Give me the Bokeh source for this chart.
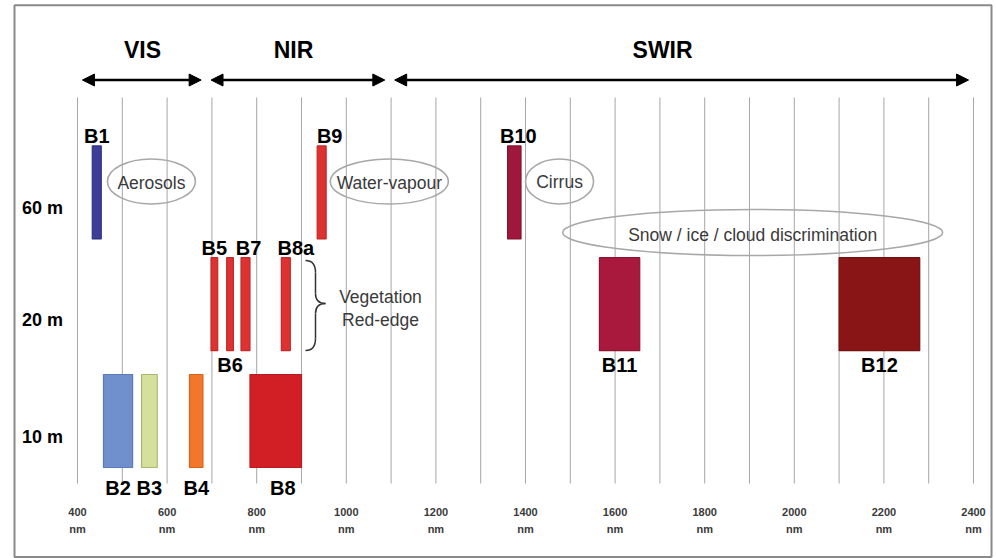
from bokeh.plotting import figure
from bokeh.models import Range1d, Arrow, NormalHead, ColumnDataSource
from bokeh.core.properties import value
from bokeh.embed import file_html
from bokeh.resources import INLINE

# ---------------- data ----------------
band_names = ["B1", "B2", "B3", "B4", "B5", "B6", "B7", "B8", "B8a", "B9", "B10", "B11", "B12"]
band_start = [433, 458, 543, 650, 698, 733, 765, 785, 855, 935, 1360, 1565, 2100]
band_end = [453, 523, 578, 680, 713, 748, 785, 900, 875, 955, 1390, 1655, 2280]
band_res = [60, 10, 10, 10, 20, 20, 20, 10, 20, 60, 60, 20, 20]

res_values = [10, 20, 60]
res_labels = ["10 m", "20 m", "60 m"]

tick_values = [400, 600, 800, 1000, 1200, 1400, 1600, 1800, 2000, 2200, 2400]
grid_values = [400, 500, 600, 700, 800, 900, 1000, 1100, 1200, 1300, 1400,
               1500, 1600, 1700, 1800, 1900, 2000, 2100, 2200, 2300, 2400]

region_names = ["VIS", "NIR", "SWIR"]
region_bounds = [400, 687, 1097, 2400]
region_label_x = [545, 882, 1706]

note_texts = ["Aerosols", "Water-vapour", "Cirrus", "Snow / ice / cloud discrimination"]
note_x = [565, 1096, 1476, 1907]

# ---------------- styles / layout ----------------
band_fill = ["#3c3f98", "#6f90cc", "#d4e09b", "#f2772b", "#dd3232", "#dd3232", "#dd3232",
             "#d21f26", "#dd3232", "#dd3232", "#a0173c", "#a8193d", "#8a1516"]
band_line = ["#2e3180", "#5a7bb8", "#a9b86e", "#d8611b", "#c42828", "#c42828", "#c42828",
             "#b81b21", "#c42828", "#c42828", "#85122f", "#8e1432", "#731010"]
label_above = ["B1", "B5", "B7", "B8a", "B9", "B10"]
label_dx_px = {"B7": 3, "B8": 7, "B8a": 10, "B9": 8, "B10": 4}

PXN = 0.448      # pixels per nm
PXY = 114.5      # pixels per row unit
HALF = 0.406     # half bar height in row units
row_of = {10: 0.0, 20: 1.02, 60: 1.996}

FONT = value("Liberation Sans")

p = figure(width=996, height=558,
           x_range=Range1d(228.13, 2451.34), y_range=Range1d(-1.2009, 3.6725),
           output_backend="svg", toolbar_location=None,
           x_axis_location=None, y_axis_location=None,
           min_border=0, outline_line_color=None,
           background_fill_color="white", border_fill_color="white")
p.grid.visible = False

# outer frame
p.quad(left=[259.4], right=[2440.2], bottom=[-1.188], top=[3.632],
       fill_color=None, line_color="#8a8a8a", line_width=2)

# vertical grid lines
p.segment(x0=grid_values, x1=grid_values,
          y0=[2.825] * len(grid_values), y1=[-0.546] * len(grid_values),
          line_color="#a6a6a6", line_width=1)

# tick labels
p.text(x=tick_values, y=[-0.799] * len(tick_values), text=[str(v) for v in tick_values],
       text_font=FONT, text_font_style="bold", text_font_size="11px",
       text_color="#3a3a3a", text_align="center", text_baseline="middle")
p.text(x=tick_values, y=[-0.939] * len(tick_values), text=["nm"] * len(tick_values),
       text_font=FONT, text_font_style="bold", text_font_size="11px",
       text_color="#3a3a3a", text_align="center", text_baseline="middle")

# region arrows
arrow_y = 2.978
inset = 11
for i in range(len(region_names)):
    p.add_layout(Arrow(x_start=region_bounds[i] + inset, y_start=arrow_y,
                       x_end=region_bounds[i + 1] - inset, y_end=arrow_y,
                       line_width=2.5, line_color="black",
                       start=NormalHead(size=12, fill_color="black", line_color="black"),
                       end=NormalHead(size=12, fill_color="black", line_color="black")))
p.text(x=region_label_x, y=[3.24] * 3, text=region_names,
       text_font=FONT, text_font_style="bold", text_font_size="23px",
       text_color="black", text_align="center", text_baseline="middle")

# resolution labels
p.text(x=[322] * 3, y=[row_of[r] - 16 / PXY for r in res_values], text=res_labels,
       text_font=FONT, text_font_style="bold", text_font_size="18px",
       text_color="black", text_align="center", text_baseline="middle")

# bars
rows = [row_of[r] for r in band_res]
src = ColumnDataSource(dict(left=band_start, right=band_end,
                            bottom=[r - HALF for r in rows], top=[r + HALF for r in rows],
                            fill=band_fill, line=band_line))
p.quad(left="left", right="right", bottom="bottom", top="top",
       fill_color="fill", line_color="line", line_width=1.2, source=src)

# band labels
lx, ly = [], []
for n, s, e, r in zip(band_names, band_start, band_end, rows):
    cx = (s + e) / 2 + label_dx_px.get(n, 0) / PXN
    if n in label_above:
        cy = r + HALF + 10 / PXY
    else:
        gap = 21 if r == 0.0 else 14
        cy = r - HALF - gap / PXY
    lx.append(cx)
    ly.append(cy)
p.text(x=lx, y=ly, text=band_names,
       text_font=FONT, text_font_style="bold", text_font_size="20px",
       text_color="black", text_align="center", text_baseline="middle")

# annotation ellipses
ell_y = [2.092, 2.092, 2.092, 1.646]
ell_w = [196.4, 263.4, 151.8, 848.2]
ell_h = [0.393, 0.393, 0.393, 0.402]
p.ellipse(x=note_x, y=ell_y, width=ell_w, height=ell_h,
          fill_color=None, line_color="#a8a8a8", line_width=1.6)
p.text(x=note_x, y=[2.075, 2.075, 2.083, 1.628], text=note_texts,
       text_font=FONT, text_font_size="17.5px",
       text_color="#3a3a3a", text_align="center", text_baseline="middle")

# brace for vegetation red-edge
def nx(px):
    return 400 + (px - 77) / PXN

def ny(py):
    return (420.5 - py) / PXY

bz = [
    ((305, 260), (312, 260), (315, 265), (315, 272)),
    ((315, 293), (315, 299), (318, 303), (325, 303)),
    ((325, 303), (318, 303), (315, 307), (315, 313)),
    ((315, 338), (315, 345), (312, 350), (305, 350)),
]
p.bezier(x0=[nx(b[0][0]) for b in bz], y0=[ny(b[0][1]) for b in bz],
         cx0=[nx(b[1][0]) for b in bz], cy0=[ny(b[1][1]) for b in bz],
         cx1=[nx(b[2][0]) for b in bz], cy1=[ny(b[2][1]) for b in bz],
         x1=[nx(b[3][0]) for b in bz], y1=[ny(b[3][1]) for b in bz],
         line_color="#333333", line_width=1.5)
p.segment(x0=[nx(315), nx(315)], y0=[ny(272), ny(313)],
          x1=[nx(315), nx(315)], y1=[ny(293), ny(338)],
          line_color="#333333", line_width=1.5)
p.text(x=[nx(380), nx(380)], y=[ny(297), ny(320)], text=["Vegetation", "Red-edge"],
       text_font=FONT, text_font_size="17.5px",
       text_color="#3a3a3a", text_align="center", text_baseline="middle")

open("out.html", "w").write(file_html(p, INLINE))
